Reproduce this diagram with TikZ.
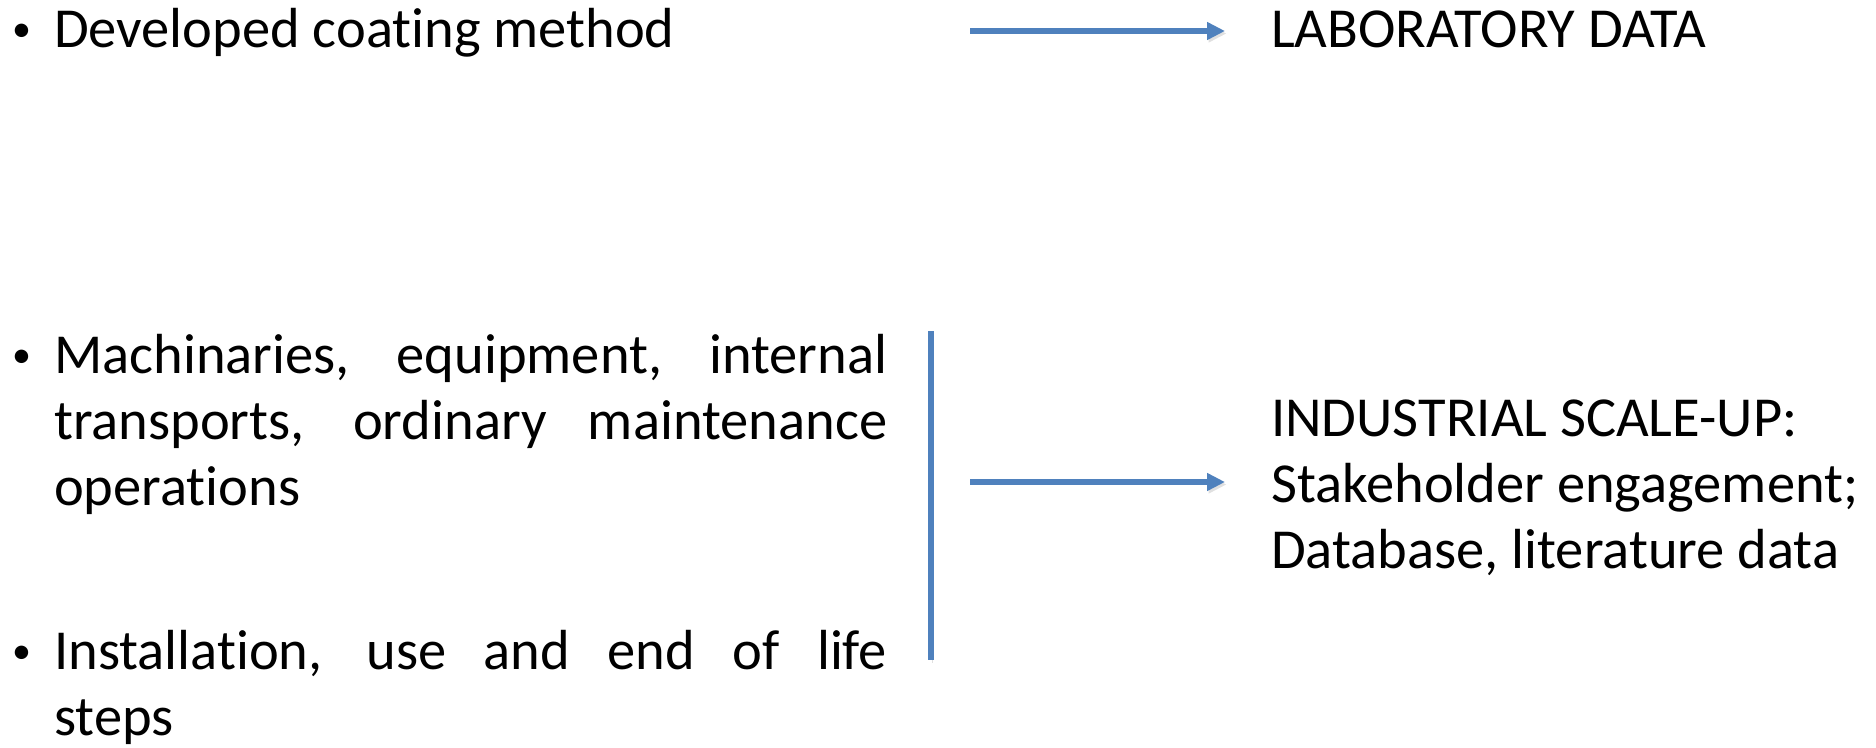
\documentclass[tikz,border=0pt]{standalone}
\usepackage{fontspec}
\setmainfont[Ligatures=NoCommon]{Carlito}
\usetikzlibrary{arrows.meta}
\setlength{\parindent}{0pt}
\definecolor{linkblue}{RGB}{79,129,189}

\tikzset{
  txt/.style={inner sep=0pt, anchor=base west, font=\fontsize{56.5}{66}\selectfont},
  dot/.style={inner sep=0pt, anchor=base west, font=\fontsize{38}{40}\selectfont},
  para/.style={txt, text width=833pt, align=justify},
  shadowline/.style={preaction={draw=black!12, transform canvas={shift={(1.5pt,-2.5pt)}}}},
  bar/.style={draw=linkblue, line width=5.5pt, shadowline},
  flow/.style={bar, -{Triangle[length=18pt,width=17pt]}}
}

\begin{document}
\begin{tikzpicture}[x=1pt,y=-1pt]
\useasboundingbox (0,0) rectangle (1876,747);

% top row
\node[dot] (bulcoat) at (12,41) {•};
\node[txt] (coating) at (54,47) {Developed coating method};
\node[txt] (labdata) at (1271,47) {LABORATORY DATA};

% bottom row
\node[dot] (bulmach) at (12,367) {•};
\node[para] (machines) at (54,373) {Machinaries, equipment, internal\linebreak transports, ordinary maintenance\linebreak operations};
\node[dot] (bulinst) at (12,663) {•};
\node[para] (install) at (54,669) {Installation, use and end of life\linebreak steps};
\node[txt, align=left] (scaleup) at (1271,568) {INDUSTRIAL SCALE-UP:\\Stakeholder engagement;\\Database, literature data};

% connectors
\coordinate (labstart) at (970,31);
\coordinate (labend) at (1225,31);
\draw[flow] (labstart) -- (labend);

\coordinate (bartop) at (931,331);
\coordinate (barbot) at (931,660);
\draw[bar] (bartop) -- (barbot);

\coordinate (scalestart) at (970,482);
\coordinate (scaleend) at (1225,482);
\draw[flow] (scalestart) -- (scaleend);
\end{tikzpicture}
\end{document}
